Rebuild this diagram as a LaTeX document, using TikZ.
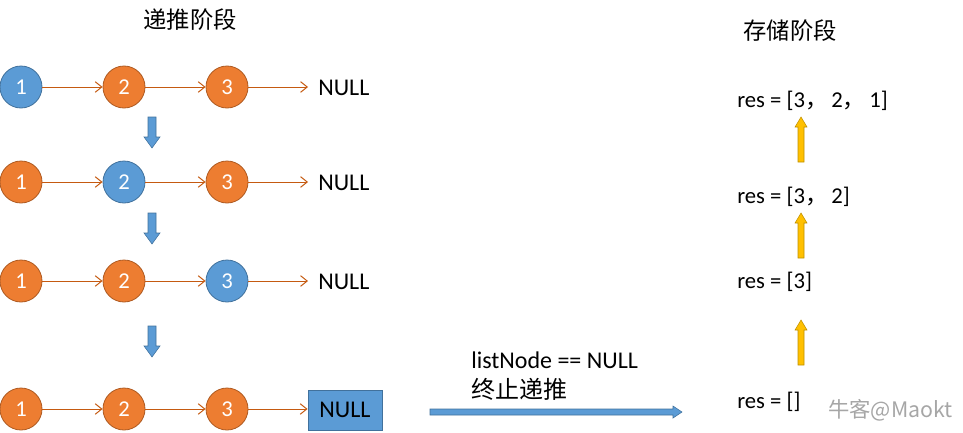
\documentclass[tikz,border=0pt]{standalone}
\usepackage{fontspec}
\setmainfont{Carlito}
\newfontfamily\cjk{Noto Sans CJK SC}
\usetikzlibrary{arrows.meta}
\definecolor{nblue}{HTML}{5B9BD5}
\definecolor{nblueb}{HTML}{41719C}
\definecolor{norange}{HTML}{ED7D31}
\definecolor{norangeb}{HTML}{AE5A21}
\definecolor{link}{HTML}{C55A11}
\definecolor{ygold}{HTML}{FFC000}
\definecolor{ygoldb}{HTML}{BF9000}
\tikzset{
  ocirc/.style={circle,fill=norange,draw=norangeb,line width=0.6pt,minimum size=31.5pt,inner sep=0pt,text=white,font=\fontsize{17}{17}\selectfont},
  bcirc/.style={ocirc,fill=nblue,draw=nblueb},
  nulltxt/.style={anchor=west,inner sep=0pt,font=\fontsize{18}{18}\selectfont},
  nullbox/.style={rectangle,fill=nblue,draw=nblueb,line width=0.6pt,minimum width=55.5pt,minimum height=30pt,inner sep=0pt,font=\fontsize{18}{18}\selectfont},
  linkarrow/.style={draw=link,line width=0.75pt,-{Straight Barb[length=5pt,width=8pt]}},
  restxt/.style={anchor=west,inner sep=0pt,font=\fontsize{17}{17}\selectfont},
  titletxt/.style={inner sep=0pt,font=\cjk\fontsize{17.5}{17.5}\selectfont},
  downarrow/.style={fill=nblue,draw=nblueb,line width=0.4pt},
  uparrow/.style={fill=ygold,draw=ygoldb,line width=0.4pt},
}
\begin{document}
\begin{tikzpicture}[x=0.75pt,y=-0.75pt]
\useasboundingbox (0,0) rectangle (963,432);
% titles
\node[titletxt] (t1) at (190,20) {递推阶段};
\node[titletxt] (t2) at (790,31) {存储阶段};
% row 1
\node[bcirc] (a1) at (21,87) {1};
\node[ocirc] (a2) at (124,87) {2};
\node[ocirc] (a3) at (227,87) {3};
\node[nulltxt] (a4) at (318,88) {NULL};
% row 2
\node[ocirc] (b1) at (21,182) {1};
\node[bcirc] (b2) at (124,182) {2};
\node[ocirc] (b3) at (227,182) {3};
\node[nulltxt] (b4) at (318,183) {NULL};
% row 3
\node[ocirc] (c1) at (21,281) {1};
\node[ocirc] (c2) at (124,281) {2};
\node[bcirc] (c3) at (227,281) {3};
\node[nulltxt] (c4) at (318,282) {NULL};
% row 4
\node[ocirc] (d1) at (21,409) {1};
\node[ocirc] (d2) at (124,409) {2};
\node[ocirc] (d3) at (227,409) {3};
\node[nullbox] (d4) at (345,410) {NULL};
% links
\foreach \r in {a,b,c,d}{
  \draw[linkarrow] (\r1) -- (\r2);
  \draw[linkarrow] (\r2) -- (\r3);
}
\draw[linkarrow,shorten >=7.5pt] (a3) -- (a3 -| a4.west);
\draw[linkarrow,shorten >=7.5pt] (b3) -- (b3 -| b4.west);
\draw[linkarrow,shorten >=7.5pt] (c3) -- (c3 -| c4.west);
\draw[linkarrow] (d3) -- (d3 -| d4.west);
% down arrows
\foreach \y in {117,213,326}{
  \draw[downarrow] (148,\y) -- (156,\y) -- (156,\y+20) -- (160,\y+20) -- (152,\y+31) -- (144,\y+20) -- (148,\y+20) -- cycle;
}
% terminate label and arrow
\node[restxt,font=\fontsize{18}{18}\selectfont] (l1) at (471,360) {listNode == NULL};
\node[anchor=west,inner sep=0pt,font=\cjk\fontsize{18}{18}\selectfont] (l2) at (471,389) {终止递推};
\draw[downarrow] (430,409) -- (673,409) -- (673,406) -- (682,412) -- (673,418) -- (673,415) -- (430,415) -- cycle;
% res texts
\node[restxt] (r3) at (737,101) {res = [3{\cjk ，}\,2{\cjk ，}\,1]};
\node[restxt] (r2) at (737,197) {res = [3{\cjk ，}\,2]};
\node[restxt] (r1) at (737,282) {res = [3]};
\node[restxt] (r0) at (737,402) {res = []};
% up arrows
\foreach \y in {117,213,320}{
  \draw[uparrow] (801,\y) -- (807,\y+10) -- (804,\y+10) -- (804,\y+45) -- (798,\y+45) -- (798,\y+10) -- (795,\y+10) -- cycle;
}
% watermark
\node[anchor=west,inner sep=0pt,text=gray!70,font=\cjk\fontsize{16}{16}\selectfont] (wm) at (828,410) {牛客@Maokt};
\end{tikzpicture}
\end{document}
